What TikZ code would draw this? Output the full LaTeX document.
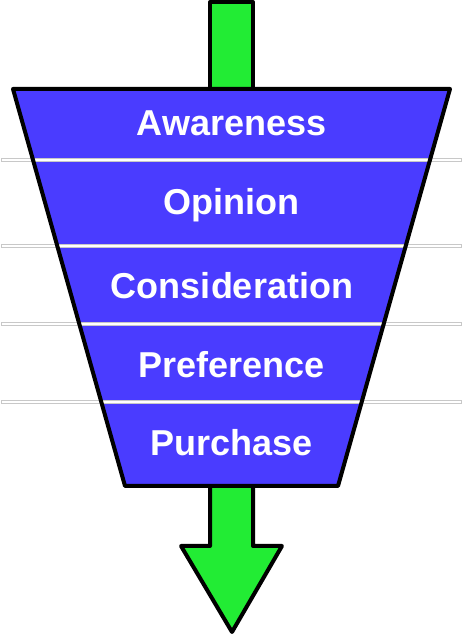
\documentclass[tikz,border=0pt]{standalone}
\usepackage{fontspec}
\setmainfont{Liberation Sans}
\definecolor{funnelblue}{RGB}{74,60,255}
\definecolor{arrowgreen}{RGB}{34,236,52}
\definecolor{sepgray}{RGB}{200,200,200}
\begin{document}
\begin{tikzpicture}[x=1pt,y=1pt,
  outline/.style={draw=black,line width=4pt,line join=round},
  stage/.style={text=white,font=\fontsize{36}{40}\selectfont\bfseries,anchor=base,inner sep=0pt},
  sepline/.style={draw=sepgray,fill=white,line width=0.8pt}]
\useasboundingbox (0,0) rectangle (462,635);
% top arrow stem
\draw[outline,fill=arrowgreen] (210,548) -- (210,633) -- (253,633) -- (253,548);
% bottom arrow
\draw[outline,fill=arrowgreen] (210,149) -- (210,89) -- (181,89) -- (232,3) -- (282,89) -- (253,89) -- (253,149);
% funnel fill
\fill[funnelblue] (13,546) -- (450,546) -- (338,149) -- (125,149) -- cycle;
% separators
\foreach \yy in {475,389,311,233}
  \draw[sepline] (1,\yy-1.5) rectangle (461,\yy+1.5);
% funnel outline
\draw[outline] (13,546) -- (450,546) -- (338,149) -- (125,149) -- cycle;
\node[stage] (awareness) at (231.5,499) {Awareness};
\node[stage] (opinion) at (231.5,420) {Opinion};
\node[stage] (consideration) at (232,336) {Consideration};
\node[stage] (preference) at (231.5,257) {Preference};
\node[stage] (purchase) at (231.5,179) {Purchase};
\end{tikzpicture}
\end{document}
